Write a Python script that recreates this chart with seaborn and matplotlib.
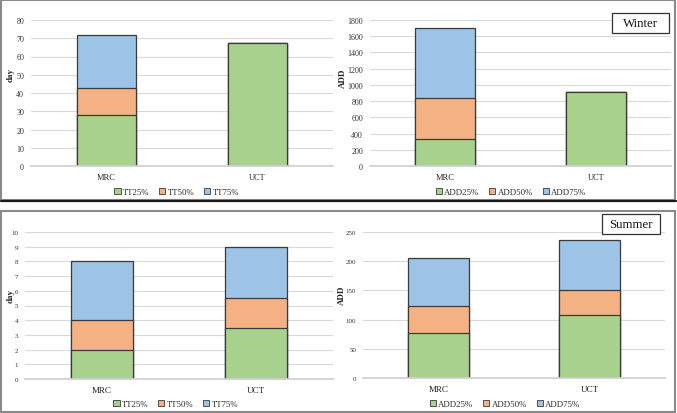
import numpy as np
import pandas as pd
import matplotlib
matplotlib.use('Agg')
import matplotlib.pyplot as plt
import seaborn as sns
from matplotlib.patches import Patch, Rectangle

sns.set_theme(style='white')
plt.rcParams['font.family'] = ['Liberation Serif', 'DejaVu Serif']

# ---- data (segment heights) ----
sites = ['MRC', 'UCT']
tt_labels = ['TT25%', 'TT50%', 'TT75%']
add_labels = ['ADD25%', 'ADD50%', 'ADD75%']

winter_tt25 = [28, 67.5]
winter_tt50 = [15, 0]
winter_tt75 = [29, 0]
winter_add25 = [330, 910]
winter_add50 = [510, 0]
winter_add75 = [860, 0]

summer_tt25 = [2, 3.5]
summer_tt50 = [2, 2]
summer_tt75 = [4, 3.5]
summer_add25 = [77, 108]
summer_add50 = [46, 43]
summer_add75 = [83, 85]

COLORS = ['#A9D18E', '#F4B183', '#9DC3E6']
EDGE = '#3a3a3a'


def stacked(ax, segs, ylim, step, ylabel, width, tick_fs, cat_fs, lab_x, lab_y):
    df = pd.DataFrame({'site': sites})
    cum = np.cumsum(np.array(segs), axis=0)
    # draw tallest first so lower segments sit on top
    for i in range(len(segs) - 1, -1, -1):
        df['v'] = cum[i]
        sns.barplot(data=df, x='site', y='v', ax=ax, color=COLORS[i],
                    saturation=1, width=width, edgecolor=EDGE, linewidth=0.9)
    ax.set_xlim(-0.5, 1.5)
    ax.set_ylim(0, ylim)
    ax.set_yticks(np.arange(0, ylim + step / 2, step))
    ax.yaxis.grid(True, color='#d9d9d9', linewidth=0.8)
    ax.set_axisbelow(True)
    for s in ['top', 'right', 'left']:
        ax.spines[s].set_visible(False)
    ax.spines['bottom'].set_color('#d0d0d0')
    ax.tick_params(axis='y', labelsize=tick_fs, length=0, pad=5, colors='#333333')
    ax.tick_params(axis='x', labelsize=cat_fs, length=0, pad=5, colors='#222222')
    ax.set_xlabel('')
    ax.set_ylabel(ylabel, fontsize=6.5, fontweight='bold', va='center')
    ax.yaxis.set_label_coords(lab_x, lab_y)


fig = plt.figure(figsize=(6.77, 4.14), dpi=100)
W, H = 677, 414


def add_axes(x0, x1, ytop, ybot):
    return fig.add_axes([x0 / W, 1 - ybot / H, (x1 - x0) / W, (ybot - ytop) / H])


ax1 = add_axes(31, 333, 21, 167)
ax2 = add_axes(370, 671, 21, 167)
ax3 = add_axes(25, 333, 233, 380)
ax4 = add_axes(363, 665, 233, 379)

stacked(ax1, [winter_tt25, winter_tt50, winter_tt75], 80, 10, 'day', 0.39,
        5.8, 6, -20 / 302, 0.63)
stacked(ax2, [winter_add25, winter_add50, winter_add75], 1800, 200, 'ADD', 0.40,
        5.8, 6, -27 / 301, 0.61)
stacked(ax3, [summer_tt25, summer_tt50, summer_tt75], 10, 1, 'day', 0.40,
        5, 6.5, -14 / 308, 0.57)
stacked(ax4, [summer_add25, summer_add50, summer_add75], 250, 50, 'ADD', 0.40,
        5, 6.5, -21 / 302, 0.575)


def legend(names, cx, cy):
    handles = [Patch(facecolor=c, edgecolor=EDGE, linewidth=0.6) for c in COLORS]
    fig.legend(handles, names, loc='center', bbox_to_anchor=(cx / W, 1 - cy / H),
               ncol=3, frameon=False, fontsize=6.3, handlelength=0.7, handleheight=0.7,
               handletextpad=0.3, columnspacing=1.1)


legend(tt_labels, 177, 193)
legend(add_labels, 511, 193)
legend(tt_labels, 176, 405)
legend(add_labels, 505, 405)


# season tags: framed box + text
def tag(text, x0, x1, y0, y1):
    fig.patches.append(Rectangle((x0 / W, 1 - y1 / H), (x1 - x0) / W, (y1 - y0) / H,
                                 transform=fig.transFigure, facecolor='white',
                                 edgecolor='#333333', linewidth=0.9))
    fig.text((x0 + x1) / 2 / W, 1 - (y0 + y1) / 2 / H, text, ha='center', va='center',
             fontsize=9.3, color='#111111')


tag('Winter', 612, 669, 14, 34)
tag('Summer', 602, 660, 215, 235)

# panel frames
fig.patches.append(Rectangle((1 / W, 1 - 201 / H), 674 / W, 200 / H, transform=fig.transFigure,
                             fill=False, edgecolor='#8a8a8a', linewidth=1.5))
fig.patches.append(Rectangle((1 / W, 1 / H), 674 / W, 201 / H, transform=fig.transFigure,
                             fill=False, edgecolor='#8a8a8a', linewidth=1.5))
fig.lines.append(plt.Line2D([1 / W, 676 / W], [1 - 202 / H, 1 - 202 / H], transform=fig.transFigure,
                            color='#1a1a1a', linewidth=1.6))

fig.savefig('out.png', dpi=100)
